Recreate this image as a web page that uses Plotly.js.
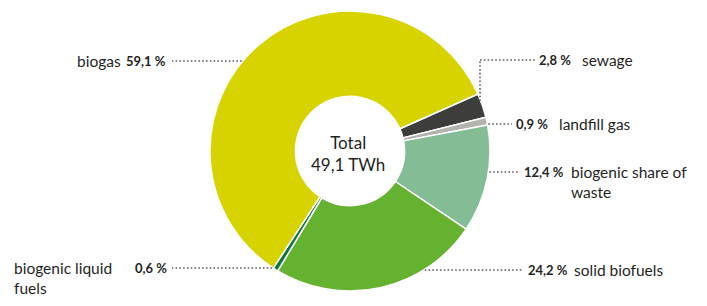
<!DOCTYPE html>
<html>
<head>
<meta charset="utf-8">
<script src="https://cdn.plot.ly/plotly-3.0.1.min.js"></script>
<style>html,body{margin:0;padding:0;background:#fff;}</style>
</head>
<body>
<div id="chart" style="width:707px;height:306px;"></div>
<script>
// ---- data ----
const categories = ['sewage', 'landfill gas', 'biogenic share of waste', 'solid biofuels', 'biogenic liquid fuels', 'biogas'];
const shares = [2.8, 0.9, 12.4, 24.2, 0.6, 59.1];
const labelNames = ['sewage', 'landfill gas', 'biogenic share of<br>waste', 'solid biofuels', 'biogenic liquid<br>fuels', 'biogas'];
const totalLabel = 'Total';
const totalTWh = 49.1;

// ---- style / layout ----
const colors = ['#3d3d3b', '#b3b3ae', '#84bc95', '#64b22f', '#0a7a3c', '#d7d300'];
const W = 707, H = 306;
const CX = 350, CY = 151, R = 140;
const FONT = 'Lato, "Open Sans", sans-serif';
const TXT = '#1f1f1f';
// label placement per slice (pixel layout)
const place = [
  {y: 60,  side: 'right', elbowX: 480, lineEnd: 535, pctX: 537, nameX: 580},
  {y: 124, side: 'right', lineEnd: 512, pctX: 514, nameX: 557},
  {y: 172, side: 'right', lineEnd: 520, pctX: 522, nameX: 569, multi: true},
  {y: 270, side: 'right', lineEnd: 522, pctX: 526, nameX: 572},
  {y: 268, side: 'left',  lineEnd: 172, pctX: 169, nameX: 12, multi: true, nameLeft: true},
  {y: 61,  side: 'left',  lineEnd: 172, pctX: 168, nameX: 123}
];

const px = x => x / W;
const py = y => 1 - y / H;
const fmt = v => v.toFixed(1).replace('.', ',') + ' %';

const shapes = [];
const annotations = [];
const dotLine = {color: '#5a5a5a', width: 1.6, dash: '1.6px,2.2px'};

place.forEach((p, i) => {
  const dy = p.y - CY;
  let startX, startY = p.y;
  if (p.elbowX !== undefined) {
    const dx = p.elbowX - CX;
    const yc = CY - Math.sqrt(R * R - dx * dx);
    shapes.push({type: 'line', xref: 'paper', yref: 'paper',
      x0: px(p.elbowX), y0: py(yc + 2), x1: px(p.elbowX), y1: py(p.y), line: dotLine});
    startX = p.elbowX;
  } else {
    const hx = Math.sqrt(Math.max(R * R - dy * dy, 0));
    startX = p.side === 'right' ? CX + hx + 1 : CX - hx - 1;
  }
  shapes.push({type: 'line', xref: 'paper', yref: 'paper',
    x0: px(startX), y0: py(startY), x1: px(p.lineEnd), y1: py(startY), line: dotLine});

  annotations.push({xref: 'paper', yref: 'paper', x: px(p.pctX), y: py(p.y),
    xanchor: p.side === 'right' ? 'left' : 'right', yanchor: 'middle',
    text: '<b>' + fmt(shares[i]) + '</b>', showarrow: false,
    font: {family: FONT, size: 13, color: TXT}});

  const nameAnchor = p.side === 'right' ? 'left' : (p.nameLeft ? 'left' : 'right');
  annotations.push({xref: 'paper', yref: 'paper', x: px(p.nameX),
    y: p.multi ? py(p.y - 11) : py(p.y),
    xanchor: nameAnchor, yanchor: p.multi ? 'top' : 'middle', align: 'left',
    text: labelNames[i], showarrow: false,
    font: {family: FONT, size: 15.5, color: TXT}});
});

annotations.push({xref: 'paper', yref: 'paper', x: px(348), y: py(153),
  xanchor: 'center', yanchor: 'middle', align: 'center', showarrow: false,
  text: totalLabel + '<br>' + totalTWh.toFixed(1).replace('.', ',') + ' TWh',
  font: {family: FONT, size: 17, color: TXT}});

const trace = {
  type: 'pie',
  values: shares,
  labels: categories,
  sort: false,
  direction: 'clockwise',
  rotation: 66,
  hole: 0.39,
  marker: {colors: colors, line: {color: '#ffffff', width: 1.5}},
  textinfo: 'none',
  hoverinfo: 'none',
  showlegend: false,
  domain: {x: [px(CX - R), px(CX + R)], y: [py(CY + R), py(CY - R)]}
};

const layout = {
  width: W, height: H,
  margin: {l: 0, r: 0, t: 0, b: 0},
  paper_bgcolor: '#ffffff',
  plot_bgcolor: '#ffffff',
  showlegend: false,
  shapes: shapes,
  annotations: annotations
};

Plotly.newPlot('chart', [trace], layout, {displayModeBar: false, staticPlot: true});
</script>
</body>
</html>
